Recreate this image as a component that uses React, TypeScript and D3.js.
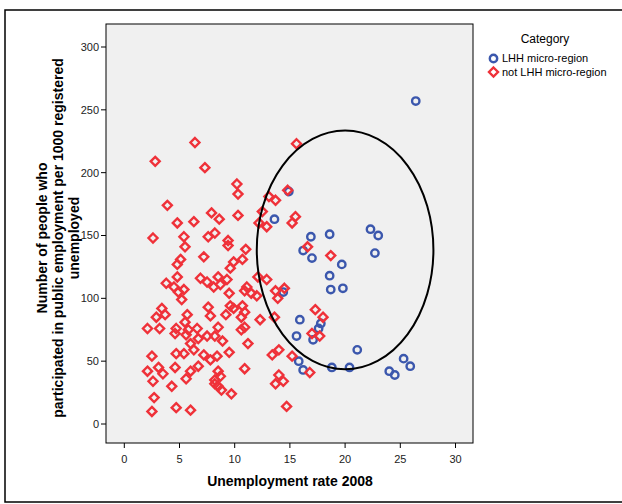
import React from 'react';
import * as d3 from 'd3';

// unemployment rate 2008 (x) / participants per 1000 registered unemployed (y)
const lhhX = [26.4, 14.9, 13.6, 16.9, 18.6, 22.3, 23.0, 22.7, 16.2, 17.0, 19.7, 18.6, 18.7, 19.8, 15.9, 17.8, 14.4, 15.6, 17.1, 21.1, 15.8, 16.2, 18.8, 20.4, 24.0, 24.5, 25.3, 25.9, 17.6];
const lhhY = [257, 185, 163, 149, 151, 155, 150, 136, 138, 132, 127, 118, 107, 108, 83, 80, 105, 70, 67, 59, 50, 43, 45, 45, 42, 39, 52, 46, 76];

const otherX = [6.4, 2.8, 7.3, 3.9, 7.9, 4.8, 6.3, 8.6, 2.6, 5.4, 5.5, 7.6, 8.2, 7.2, 5.1, 4.8, 4.8, 3.8, 4.5, 4.9,
  5.4, 5.2, 6.9, 7.5, 8.1, 8.5, 3.4, 2.9, 3.7, 3.2, 2.1, 4.7, 5.5, 5.7, 5.8, 6.6, 7.6, 7.8, 8.5, 8.2,
  2.5, 2.1, 3.1, 3.5, 2.6, 4.7, 5.4, 4.6, 6.3, 6.0, 5.6, 4.6, 7.2, 7.8, 6.7, 6.0, 5.6, 4.3, 8.2, 8.5,
  2.7, 2.5, 4.7, 6.0, 6.7, 7.5, 8.9, 8.4, 9.5, 11.2, 10.6, 10.9, 8.5, 8.7, 8.2, 8.8, 9.7, 13.4, 14.0, 15.2,
  14.0, 14.4, 13.7, 14.7, 17.0, 16.8, 17.7, 17.3, 18.0, 16.6, 18.7, 15.6, 10.2, 10.3, 14.8, 13.1, 13.7, 10.3, 12.5, 15.5,
  15.2, 12.9, 12.2, 9.4, 9.4, 11.0, 9.9, 10.7, 9.6, 9.3, 8.7, 12.1, 12.9, 11.1, 10.9, 11.5, 12.0, 13.7, 14.5, 13.9,
  9.5, 9.6, 9.9, 10.7, 10.9, 9.2, 10.6, 12.3, 13.6, 10.9];
const otherY = [224, 209, 204, 174, 168, 160, 161, 163, 148, 149, 141, 149, 152, 133, 131, 127, 117, 112, 109, 105,
  107, 99, 116, 113, 109, 117, 92, 85, 87, 76, 76, 76, 81, 87, 75, 76, 93, 86, 77, 70,
  54, 42, 45, 40, 34, 56, 56, 45, 59, 64, 71, 72, 55, 51, 46, 42, 36, 30, 35, 30,
  21, 10, 13, 11, 68, 70, 66, 54, 57, 64, 75, 44, 42, 38, 32, 27, 24, 55, 59, 54,
  39, 34, 32, 14, 72, 41, 70, 91, 85, 141, 134, 223, 191, 183, 186, 181, 178, 166, 169, 165,
  160, 157, 160, 146, 142, 139, 129, 131, 124, 115, 111, 117, 115, 109, 106, 104, 102, 106, 108, 100,
  104, 94, 92, 94, 89, 87, 85, 83, 85, 77];

const xTicks = [0, 5, 10, 15, 20, 25, 30];
const yTicks = [0, 50, 100, 150, 200, 250, 300];

const BLUE = '#3b57ad';
const RED = '#ef3139';
const FONT = 'Arial, "Liberation Sans", sans-serif';

const diamond = (cx: number, cy: number, r: number) =>
  `M${cx},${cy - r}L${cx + r},${cy}L${cx},${cy + r}L${cx - r},${cy}Z`;

export default function App() {
  const box = {left: 106, right: 473, top: 24, bottom: 443};
  const x = d3.scaleLinear().domain([0, 30]).range([124.3, 455.5]);
  const y = d3.scaleLinear().domain([0, 300]).range([424, 47]);

  const ell = {cx: 20, cy: 138.5, rx: 8, ry: 95};

  return (
    <svg width={622} height={504} style={{position: 'absolute', left: 0, top: 0}}>
      <rect x={0} y={0} width={622} height={504} fill="#fff" />
      <rect x={5} y={10} width={620} height={492} fill="none" stroke="#000" strokeWidth={1.5} />
      <rect x={box.left} y={box.top} width={box.right - box.left} height={box.bottom - box.top}
        fill="#f0f0f0" stroke="#000" strokeWidth={1} />

      {yTicks.map(t => (
        <g key={'y' + t}>
          <line x1={box.left - 5} x2={box.left} y1={y(t)} y2={y(t)} stroke="#000" />
          <text x={box.left - 7} y={y(t)} dy="0.35em" textAnchor="end" fontSize={11}
            fontFamily={FONT} fill="#222">{t}</text>
        </g>
      ))}
      {xTicks.map(t => (
        <g key={'x' + t}>
          <line x1={x(t)} x2={x(t)} y1={box.bottom} y2={box.bottom + 5} stroke="#000" />
          <text x={x(t)} y={box.bottom + 20} textAnchor="middle" fontSize={11}
            fontFamily={FONT} fill="#222">{t}</text>
        </g>
      ))}

      {lhhX.map((v, i) => (
        <circle key={'b' + i} cx={x(v)} cy={y(lhhY[i])} r={3.7} fill="none" stroke={BLUE} strokeWidth={2.4} />
      ))}
      {otherX.map((v, i) => (
        <path key={'r' + i} d={diamond(x(v), y(otherY[i]), 4.5)} fill="none" stroke={RED} strokeWidth={2.4} />
      ))}

      <ellipse cx={x(ell.cx)} cy={y(ell.cy)} rx={x(ell.cx + ell.rx) - x(ell.cx)}
        ry={y(ell.cy - ell.ry) - y(ell.cy)} fill="none" stroke="#000" strokeWidth={2} />

      <text x={290} y={486} textAnchor="middle" fontSize={14} fontWeight="bold" fontFamily={FONT}>
        Unemployment rate 2008
      </text>
      <g transform={`translate(0,238) rotate(-90)`} fontSize={14}
        fontWeight="bold" fontFamily={FONT} textAnchor="middle">
        <text x={0} y={47}>Number of people who</text>
        <text x={0} y={63}>participated in public employment per 1000 registered</text>
        <text x={0} y={79}>unemployed</text>
      </g>

      <text x={545} y={43} textAnchor="middle" fontSize={12} fontFamily={FONT}>Category</text>
      <circle cx={493.5} cy={58.5} r={3.7} fill="none" stroke={BLUE} strokeWidth={2.4} />
      <text x={502} y={62} fontSize={11} fontFamily={FONT}>LHH micro-region</text>
      <path d={diamond(493.5, 72, 4.5)} fill="none" stroke={RED} strokeWidth={2.4} />
      <text x={502} y={76} fontSize={11} fontFamily={FONT}>not LHH micro-region</text>
    </svg>
  );
}
